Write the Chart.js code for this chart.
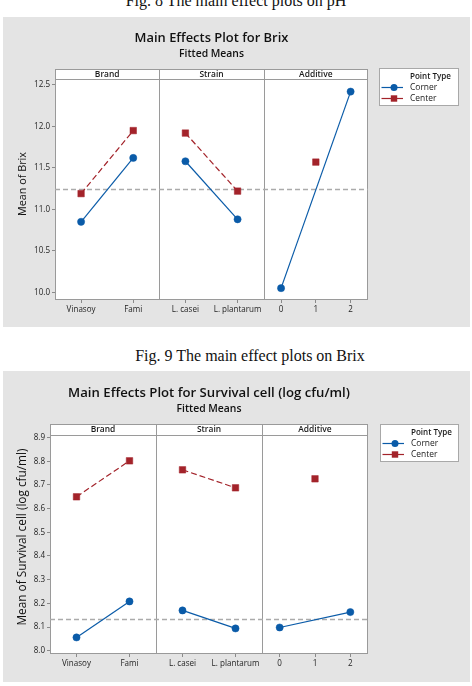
<!DOCTYPE html>
<html><head><meta charset="utf-8">
<script src="https://cdn.jsdelivr.net/npm/chart.js@4.4.1/dist/chart.umd.min.js"></script>
<style>
html,body{margin:0;padding:0;background:#fff;width:472px;height:686px;overflow:hidden;position:relative;}
.cap{position:absolute;font-family:"Liberation Serif","Times New Roman",serif;font-size:16px;line-height:16px;white-space:nowrap;color:#111;transform:translateX(-50%);}
.fig{position:absolute;left:3px;width:467px;background:#e4e4e4;}
.fig canvas{position:absolute;left:0;top:0;}
</style></head><body>
<div class="cap" style="left:236px;top:-7px">Fig. 8 The main effect plots on pH</div>
<div class="fig" style="top:17px;height:310px"><canvas id="c1" width="467" height="310"></canvas></div>
<div class="cap" style="left:250px;top:348px">Fig. 9 The main effect plots on Brix</div>
<div class="fig" style="top:371px;height:311px"><canvas id="c2" width="467" height="311"></canvas></div>
<script>
// ---------- DATA ----------
const factorNames = ['Brand', 'Strain', 'Additive'];
const brandLevels = ['Vinasoy', 'Fami'];
const strainLevels = ['L. casei', 'L. plantarum'];
const additiveLevels = ['0', '1', '2'];
const seriesNames = ['Corner', 'Center'];
const legendTitle = 'Point Type';

// Brix (fitted means)
const brixCornerBrand = [10.85, 11.62];
const brixCornerStrain = [11.58, 10.88];
const brixCornerAdditive = [10.05, null, 12.42];
const brixCenterBrand = [11.19, 11.95];
const brixCenterStrain = [11.92, 11.22];
const brixCenterAdditive = [null, 11.57, null];
const brixMean = 11.24;
const brixTicks = [10.0, 10.5, 11.0, 11.5, 12.0, 12.5];

// Survival cell (fitted means)
const survCornerBrand = [8.056, 8.208];
const survCornerStrain = [8.170, 8.094];
const survCornerAdditive = [8.098, null, 8.163];
const survCenterBrand = [8.650, 8.802];
const survCenterStrain = [8.764, 8.688];
const survCenterAdditive = [null, 8.726, null];
const survMean = 8.132;
const survTicks = [8.0, 8.1, 8.2, 8.3, 8.4, 8.5, 8.6, 8.7, 8.8, 8.9];

// ---------- STYLE ----------
const BLUE = '#0a5ba8';
const RED = '#a3232a';
const FONT = '"Open Sans", "Noto Sans", sans-serif';
const BORDER = '#9a9a9a';

// font sizes fitted to the reference text widths
const mctx = document.createElement('canvas').getContext('2d');
function fit(text, weight, width) {
  mctx.font = weight + ' 20px ' + FONT;
  return +(20 * width / mctx.measureText(text).width).toFixed(2);
}
const TICK_SIZE = fit('Vinasoy', 400, 29);
const STRIP_SIZE = fit('Brand', 600, 24.7);
const LEG_SIZE = fit('Point Type', 600, 41);
const SUB_SIZE = fit('Fitted Means', 600, 65);

const levelsByPanel = [brandLevels, strainLevels, additiveLevels];
function levelPos(p, i) { return p + (i + 0.5) / levelsByPanel[p].length; }
function pts(p, vals) {
  return vals.map((v, i) => v == null ? null : { x: levelPos(p, i), y: v }).filter(Boolean);
}
const xTickPos = [], xTickLabels = [];
levelsByPanel.forEach((lv, p) => lv.forEach((l, i) => { xTickPos.push(levelPos(p, i)); xTickLabels.push(l); }));

function makeDatasets(corner, center, mean) {
  const ds = [];
  corner.forEach((vals, p) => ds.push({
    label: seriesNames[0], data: pts(p, vals), borderColor: BLUE, backgroundColor: BLUE,
    borderWidth: 1.2, pointStyle: 'circle', pointRadius: 3.6, pointBorderWidth: 0.5, order: 0
  }));
  center.forEach((vals, p) => ds.push({
    label: seriesNames[1], data: pts(p, vals), borderColor: RED, backgroundColor: RED,
    borderWidth: 1.2, borderDash: [6, 3], pointStyle: 'rect', pointRadius: 4.6, pointBorderWidth: 0.5, order: 0
  }));
  ds.push({
    label: 'mean', data: [{ x: 0, y: mean }, { x: 3, y: mean }], borderColor: '#ababab',
    borderWidth: 1.4, borderDash: [5, 3], pointRadius: 0, order: 5
  });
  return ds;
}

function makeChart(canvas, g) {
  const W = canvas.width, H = canvas.height;
  const titleSize = fit(g.title, 600, g.titleW);
  const yTitleSize = fit(g.yTitle, 400, g.yTitleW);
  const decor = {
    id: 'decor',
    beforeDraw(chart) {
      const ctx = chart.ctx, a = chart.chartArea, xs = chart.scales.x;
      ctx.save();
      ctx.fillStyle = '#fff';
      ctx.fillRect(a.left, g.stripTop, a.right - a.left, a.bottom - g.stripTop);
      ctx.strokeStyle = BORDER; ctx.lineWidth = 1;
      const L = Math.round(a.left) + 0.5, R = Math.round(a.right) - 0.5;
      const T = Math.round(g.stripTop) + 0.5, B = Math.round(a.bottom) - 0.5, S = Math.round(a.top) + 0.5;
      ctx.strokeRect(L, T, R - L, B - T);
      ctx.beginPath(); ctx.moveTo(L, S); ctx.lineTo(R, S); ctx.stroke();
      for (let p = 1; p < factorNames.length; p++) {
        const x = Math.round(xs.getPixelForValue(p)) + 0.5;
        ctx.beginPath(); ctx.moveTo(x, T); ctx.lineTo(x, B); ctx.stroke();
      }
      ctx.fillStyle = '#1a1a1a'; ctx.textAlign = 'center'; ctx.textBaseline = 'middle';
      ctx.font = '600 ' + STRIP_SIZE + 'px ' + FONT;
      factorNames.forEach((f, p) => {
        const cx = (xs.getPixelForValue(p) + xs.getPixelForValue(p + 1)) / 2;
        ctx.fillText(f, cx, (g.stripTop + a.top) / 2 + 0.5);
      });
      const mid = (a.left + a.right) / 2;
      ctx.fillStyle = '#111';
      ctx.font = '600 ' + titleSize + 'px ' + FONT;
      ctx.fillText(g.title, mid, g.titleY);
      ctx.font = '600 ' + SUB_SIZE + 'px ' + FONT;
      ctx.fillText('Fitted Means', mid, g.subY);
      ctx.save();
      ctx.translate(g.yTitleX, g.yTitleC);
      ctx.rotate(-Math.PI / 2);
      ctx.font = '400 ' + yTitleSize + 'px ' + FONT;
      ctx.fillText(g.yTitle, 0, 0);
      ctx.restore();
      const lb = g.legend;
      ctx.fillStyle = '#fff';
      ctx.fillRect(lb.x, lb.y, lb.w, lb.h);
      ctx.strokeStyle = '#a8a8a8';
      ctx.strokeRect(lb.x + 0.5, lb.y + 0.5, lb.w - 1, lb.h - 1);
      ctx.fillStyle = '#1a1a1a'; ctx.textAlign = 'left';
      ctx.font = '600 ' + LEG_SIZE + 'px ' + FONT;
      ctx.fillText(legendTitle, lb.x + 31, lb.y + 8.5);
      ctx.font = '400 ' + (LEG_SIZE * 1.05).toFixed(2) + 'px ' + FONT;
      const rows = [[seriesNames[0], BLUE, 'circle', lb.y + 19.5], [seriesNames[1], RED, 'rect', lb.y + 30.5]];
      rows.forEach(([name, col, sh, y]) => {
        ctx.strokeStyle = col; ctx.lineWidth = 1.2;
        ctx.beginPath(); ctx.moveTo(lb.x + 2.5, y); ctx.lineTo(lb.x + 24, y); ctx.stroke();
        ctx.fillStyle = col;
        if (sh === 'circle') { ctx.beginPath(); ctx.arc(lb.x + 15, y, 3.5, 0, Math.PI * 2); ctx.fill(); }
        else { ctx.fillRect(lb.x + 11.8, y - 3.2, 6.4, 6.4); }
        ctx.fillStyle = '#1a1a1a';
        ctx.fillText(name, lb.x + 31, y);
      });
      ctx.restore();
    }
  };
  const tickFont = { family: FONT, size: TICK_SIZE, weight: '400' };
  return new Chart(canvas, {
    type: 'line',
    data: { datasets: makeDatasets(g.corner, g.center, g.mean) },
    plugins: [decor],
    options: {
      responsive: false, animation: false, devicePixelRatio: 1,
      layout: { padding: { left: 0, top: g.plotTop, right: W - g.plotRight, bottom: 0 } },
      plugins: { legend: { display: false }, tooltip: { enabled: false }, title: { display: false } },
      elements: { line: { tension: 0 } },
      scales: {
        x: {
          type: 'linear', min: 0, max: 3,
          afterBuildTicks: s => { s.ticks = xTickPos.map(v => ({ value: v })); },
          afterFit: s => { s.height = H - g.plotBottom; },
          ticks: { callback: (v, i) => xTickLabels[i], autoSkip: false, maxRotation: 0, font: tickFont, color: '#1e1e1e', padding: 2 },
          grid: { display: true, drawOnChartArea: false, drawTicks: true, tickLength: 3, color: '#8a8a8a' },
          border: { display: false }
        },
        y: {
          type: 'linear', min: g.yMin, max: g.yMax,
          afterBuildTicks: s => { s.ticks = g.yTicks.map(v => ({ value: v })); },
          afterFit: s => { s.width = g.plotLeft; },
          ticks: { callback: v => Number(v).toFixed(1), autoSkip: false, font: tickFont, color: '#1e1e1e', padding: 2 },
          grid: { display: true, drawOnChartArea: false, drawTicks: true, tickLength: 3, color: '#8a8a8a' },
          border: { display: false }
        }
      }
    }
  });
}

makeChart(document.getElementById('c1'), {
  title: 'Main Effects Plot for Brix', titleW: 154, yTitle: 'Mean of Brix', yTitleW: 64, yTitleC: 167,
  corner: [brixCornerBrand, brixCornerStrain, brixCornerAdditive],
  center: [brixCenterBrand, brixCenterStrain, brixCenterAdditive],
  mean: brixMean, yTicks: brixTicks, yMin: 9.907, yMax: 12.572,
  plotLeft: 52, plotRight: 365, plotTop: 62, plotBottom: 283, stripTop: 52,
  titleY: 21, subY: 37, yTitleX: 20,
  legend: { x: 376, y: 51, w: 80, h: 38 }
});
makeChart(document.getElementById('c2'), {
  title: 'Main Effects Plot for Survival cell (log cfu/ml)', titleW: 282, yTitle: 'Mean of Survival cell (log cfu/ml)', yTitleW: 177, yTitleC: 166,
  corner: [survCornerBrand, survCornerStrain, survCornerAdditive],
  center: [survCenterBrand, survCenterStrain, survCenterAdditive],
  mean: survMean, yTicks: survTicks, yMin: 7.986, yMax: 8.911,
  plotLeft: 47, plotRight: 365, plotTop: 64, plotBottom: 283, stripTop: 53,
  titleY: 22, subY: 38, yTitleX: 20,
  legend: { x: 377, y: 53, w: 79, h: 38 }
});
</script>
</body></html>
